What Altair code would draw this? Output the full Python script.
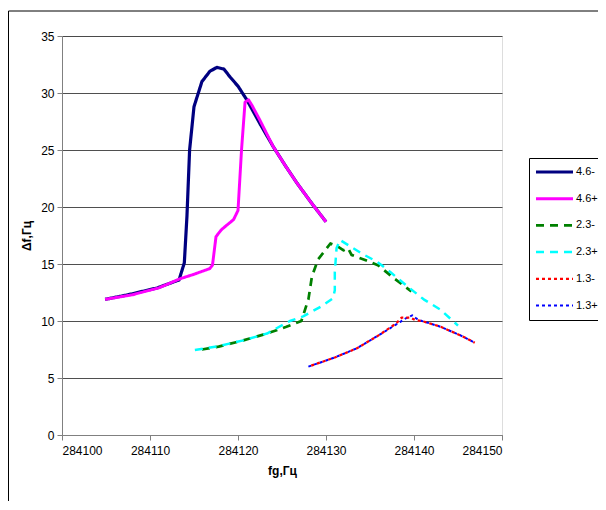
import altair as alt
import pandas as pd

series_names = ["4.6-", "4.6+", "2.3-", "2.3+", "1.3-", "1.3+"]
series_colors = ["#000080", "#FF00FF", "#008000", "#00FFFF", "#FF0000", "#0000FF"]

x_46m = [284104.9, 284107.5, 284110.8, 284113.3, 284113.9, 284114.2, 284114.5, 284115.0,
         284115.9, 284116.8, 284117.6, 284118.4, 284119.1, 284120.0, 284121.0, 284122.5,
         284124.0, 284125.4, 284126.7, 284128.4, 284130.0]
y_46m = [11.9, 12.3, 12.9, 13.6, 15.1, 19.2, 25.0, 28.8,
         31.0, 31.9, 32.25, 32.1, 31.4, 30.6, 29.4, 27.3,
         25.3, 23.6, 22.1, 20.3, 18.7]

x_46p = [284104.9, 284108.0, 284111.0, 284113.4, 284115.0, 284116.8, 284117.1, 284117.5,
         284118.1, 284119.5, 284120.0, 284120.4, 284120.8, 284121.2, 284121.6, 284122.5,
         284124.0, 284125.4, 284126.7, 284128.4, 284130.0]
y_46p = [11.9, 12.3, 12.9, 13.7, 14.1, 14.6, 14.9, 17.4,
         18.0, 18.9, 19.7, 25.0, 29.2, 29.4, 28.9, 27.6,
         25.3, 23.6, 22.1, 20.3, 18.7]

x_23m = [284115.9, 284117.8, 284120.6, 284123.3, 284125.5, 284127.2, 284128.0, 284128.4,
         284129.1, 284130.5, 284131.2, 284132.0, 284132.5, 284132.9, 284134.6, 284135.9,
         284137.8, 284139.7]
y_23m = [7.5, 7.75, 8.3, 8.9, 9.5, 10.0, 11.9, 13.9,
         15.4, 16.8, 16.6, 16.2, 16.4, 15.8, 15.3, 14.9,
         13.7, 12.6]

x_23p = [284115.1, 284117.8, 284120.6, 284123.3, 284125.9, 284127.4, 284129.5, 284130.8,
         284131.0, 284131.0, 284131.2, 284131.6, 284134.1, 284135.8, 284137.3, 284139.0,
         284141.1, 284143.0, 284145.0]
y_23p = [7.45, 7.8, 8.3, 8.9, 10.0, 10.4, 11.3, 12.0,
         12.7, 14.3, 16.4, 17.1, 15.9, 15.2, 14.3, 13.2,
         11.9, 11.0, 9.6]

x_13m = [284128.0, 284131.0, 284133.5, 284136.1, 284138.0, 284138.6, 284139.6, 284140.1,
         284140.9, 284143.0, 284145.4, 284146.9]
y_13m = [6.0, 6.8, 7.6, 8.8, 9.8, 10.3, 10.3, 10.1,
         10.0, 9.5, 8.7, 8.1]

x_13p = [284128.0, 284131.0, 284133.5, 284136.1, 284138.4, 284139.0, 284139.8, 284140.3,
         284140.9, 284143.0, 284145.4, 284146.9]
y_13p = [6.0, 6.8, 7.6, 8.8, 9.9, 10.2, 10.5, 10.2,
         10.0, 9.5, 8.7, 8.1]

x_ticks = [284100, 284110, 284120, 284130, 284140, 284150]
y_ticks = [0, 5, 10, 15, 20, 25, 30, 35]

all_x = [x_46m, x_46p, x_23m, x_23p, x_13m, x_13p]
all_y = [y_46m, y_46p, y_23m, y_23p, y_13m, y_13p]

rows = []
for name, xs, ys in zip(series_names, all_x, all_y):
    for i, (xv, yv) in enumerate(zip(xs, ys)):
        rows.append({"series": name, "fg": xv, "df": yv, "idx": i})
df = pd.DataFrame(rows)

FONT = "Liberation Sans"

legend = alt.Legend(
    title=None, orient="none", legendX=467, legendY=122,
    symbolType="stroke", symbolSize=1369, labelFont=FONT, labelFontSize=11,
    labelColor="#000", labelOffset=1, padding=5, rowPadding=8.7,
    strokeColor="#000", fillColor="#fff", clipHeight=18,
)

enc = dict(
    x=alt.X("fg:Q", scale=alt.Scale(domain=[284100, 284150], nice=False, zero=False),
            axis=alt.Axis(title="fg,Гц", values=x_ticks,
                          format="d", grid=False, domainColor="#808080", tickColor="#808080",
                          tickSize=5, labelFont=FONT, labelFontSize=12, labelColor="#000",
                          labelPadding=5, titleFont=FONT, titleFontSize=12, titleFontWeight="bold",
                          titlePadding=9, titleColor="#000")),
    y=alt.Y("df:Q", scale=alt.Scale(domain=[0, 35], nice=False),
            axis=alt.Axis(title="Δf,Гц", values=y_ticks,
                          grid=True, gridColor="#303030", gridWidth=1, gridOpacity=0.85,
                          domainColor="#808080", tickColor="#808080", tickSize=5,
                          labelFont=FONT, labelFontSize=12, labelColor="#000", labelPadding=3,
                          titleFont=FONT, titleFontSize=12, titleFontWeight="bold",
                          titlePadding=7, titleColor="#000")),
    color=alt.Color("series:N", scale=alt.Scale(domain=series_names, range=series_colors), legend=legend),
    strokeDash=alt.StrokeDash("series:N", scale=alt.Scale(domain=series_names,
                              range=[[1, 0], [1, 0], [8, 6], [8, 6], [3, 3], [3, 3]]), legend=legend),
    strokeWidth=alt.StrokeWidth("series:N", scale=alt.Scale(domain=series_names,
                                range=[3.2, 2, 3.5, 3.5, 3, 3]), legend=legend),
    order="idx:Q",
    detail="series:N",
)

base = alt.Chart(df)
main_lines = base.mark_line(strokeCap="butt", strokeJoin="round").encode(**enc).transform_filter(
    alt.datum.series != "1.3-")
red_line = base.mark_line(strokeCap="butt", strokeJoin="round", strokeDashOffset=3).encode(**enc).transform_filter(
    alt.datum.series == "1.3-")

border = alt.Chart(pd.DataFrame({"a": [0]})).mark_rect(fill=None, stroke="#000", strokeWidth=1).encode(
    x=alt.value(-53.5), x2=alt.value(600), y=alt.value(-25), y2=alt.value(500)
)

chart = alt.layer(border, main_lines, red_line).properties(
    width=440, height=399,
    autosize=alt.AutoSizeParams(type="none"),
    padding={"left": 54, "top": 28, "right": 96, "bottom": 66},
).configure_view(stroke=None, clip=False).configure(background="#ffffff")

chart.save("out.html", embed_options={"renderer": "svg", "actions": False})
